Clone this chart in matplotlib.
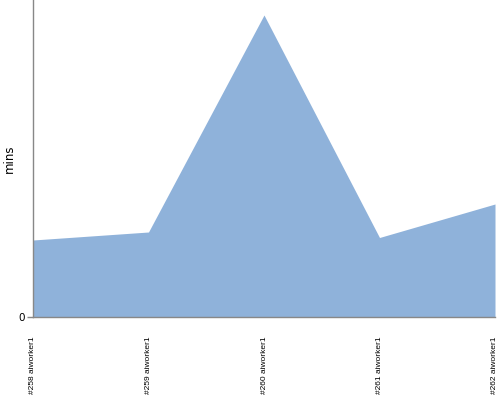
import matplotlib
matplotlib.use("Agg")
import matplotlib.pyplot as plt

# build durations
builds = ["#258 aiworker1", "#259 aiworker1", "#260 aiworker1", "#261 aiworker1", "#262 aiworker1"]
mins = [7.7, 8.5, 30.2, 7.95, 11.3]
y_ticks = [0]

fig = plt.figure(figsize=(5, 4), dpi=100)
ax = fig.add_axes([0.066, 0.2075, 0.924, 0.7925])

x = list(range(len(builds)))
ax.fill_between(x, mins, 0, color="#8fb2da", linewidth=0)

ax.set_xlim(0, len(builds) - 1)
ax.set_ylim(0, 31.7)
ax.set_xticks(x)
ax.set_xticklabels(builds, rotation=90, fontsize=6, family="Liberation Sans")
ax.set_yticks(y_ticks)
ax.set_yticklabels([str(t) for t in y_ticks], fontsize=7.5)
ax.set_ylabel("mins", fontsize=8.5)
ax.yaxis.set_label_coords(-0.036, 0.5)

for s in ["top", "right"]:
    ax.spines[s].set_visible(False)
for s in ["left", "bottom"]:
    ax.spines[s].set_color("#888888")
    ax.spines[s].set_linewidth(1)
ax.tick_params(axis="y", colors="#888888", labelcolor="black", length=4, width=1, pad=2)
ax.tick_params(axis="x", length=0, pad=14)

fig.savefig("out.png", dpi=100)
